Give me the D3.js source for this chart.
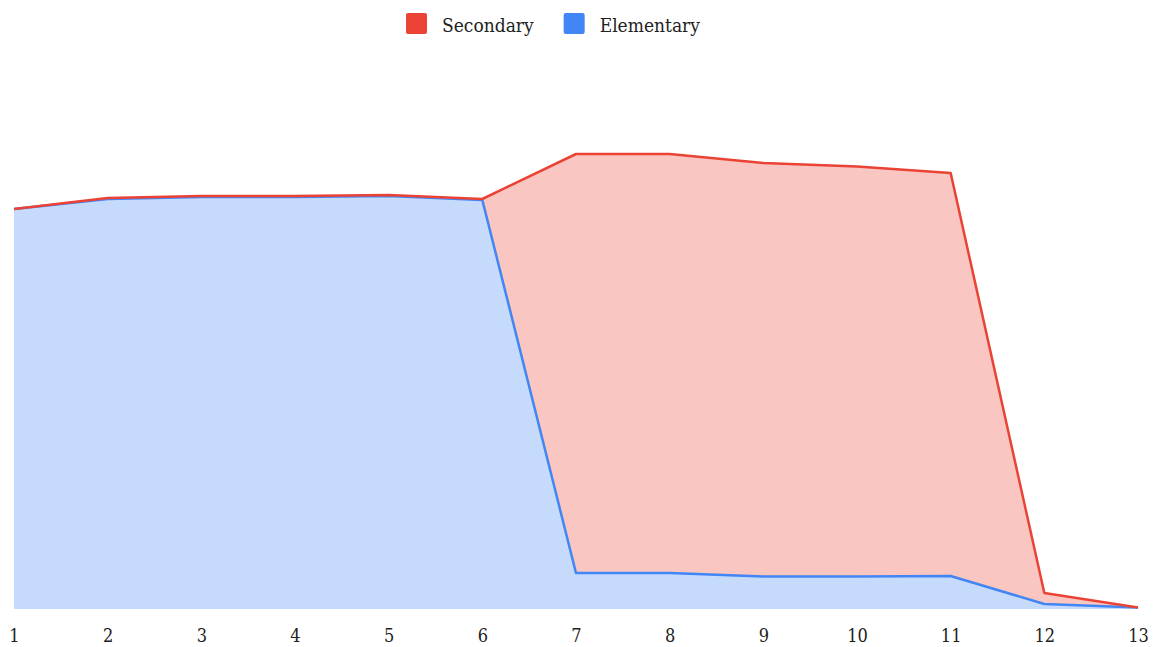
<!DOCTYPE html>
<html>
<head>
<meta charset="utf-8">
<script src="https://cdn.jsdelivr.net/npm/d3@7"></script>
<style>
  body { margin: 0; background: #fff; }
  svg text { font-family: "DejaVu Serif", serif; font-stretch: condensed; fill: #222; }
</style>
</head>
<body>
<div id="chart"></div>
<script>
// data
var grades = [1, 2, 3, 4, 5, 6, 7, 8, 9, 10, 11, 12, 13];
var elementary = [400, 410, 412, 412, 413, 409, 36, 36, 32.5, 32.5, 33, 5, 1.5];
var secondary = [0, 1, 1, 1, 1, 1, 419, 419, 413.5, 410, 403, 11, 0];
var seriesNames = ["Secondary", "Elementary"];
var seriesColors = ["#ea4335", "#4285f4"];

var width = 1155, height = 647;
var margin = {top: 109, right: 17, bottom: 38, left: 14};

var svg = d3.select("#chart")
    .append("svg")
    .attr("width", width)
    .attr("height", height);

var x = d3.scaleLinear()
    .domain([1, 13])
    .range([margin.left, width - margin.right]);

var y = d3.scaleLinear()
    .domain([0, 500])
    .range([height - margin.bottom, margin.top]);

// stacked rows
var rows = grades.map(function(g, i) {
    return {grade: g, Elementary: elementary[i], Secondary: secondary[i]};
});
var stack = d3.stack().keys(["Elementary", "Secondary"]);
var layers = stack(rows);

var area = d3.area()
    .x(function(d) { return x(d.data.grade); })
    .y0(function(d) { return y(d[0]); })
    .y1(function(d) { return y(d[1]); });

var line = d3.line()
    .x(function(d) { return x(d.data.grade); })
    .y(function(d) { return y(d[1]); });

var colorOf = {Secondary: seriesColors[0], Elementary: seriesColors[1]};

// flaechen
svg.append("g").selectAll("path")
    .data(layers)
    .enter()
    .append("path")
    .attr("d", area)
    .attr("fill", function(d) { return colorOf[d.key]; })
    .attr("fill-opacity", 0.3);

// linien (Elementary first, Secondary on top)
svg.append("g").selectAll("path")
    .data(layers)
    .enter()
    .append("path")
    .attr("d", line)
    .attr("fill", "none")
    .attr("stroke", function(d) { return colorOf[d.key]; })
    .attr("stroke-width", 2.5)
    .attr("stroke-linejoin", "round");

// x-Achse, nur Labels
var xAxis = svg.append("g")
    .attr("transform", "translate(0," + (height - margin.bottom) + ")")
    .call(d3.axisBottom(x).tickValues(grades).tickFormat(d3.format("d")).tickSize(0).tickPadding(20));
xAxis.select(".domain").remove();
xAxis.selectAll("text")
    .attr("font-size", "18px")
    .style("font-family", "\"DejaVu Serif\", serif")
    .attr("fill", "#222");

// Legende
var legend = svg.append("g");
var lx = 0;
seriesNames.forEach(function(name, i) {
    var item = legend.append("g").attr("transform", "translate(" + lx + ",0)");
    item.append("rect")
        .attr("x", 0).attr("y", 13)
        .attr("width", 21).attr("height", 21)
        .attr("rx", 2)
        .attr("fill", seriesColors[i]);
    var t = item.append("text")
        .attr("x", 36).attr("y", 32)
        .attr("font-size", "19px")
        .text(name);
    lx += 36 + t.node().getComputedTextLength() + 30;
});
legend.attr("transform", "translate(" + (406) + ",0)");
</script>
</body>
</html>
